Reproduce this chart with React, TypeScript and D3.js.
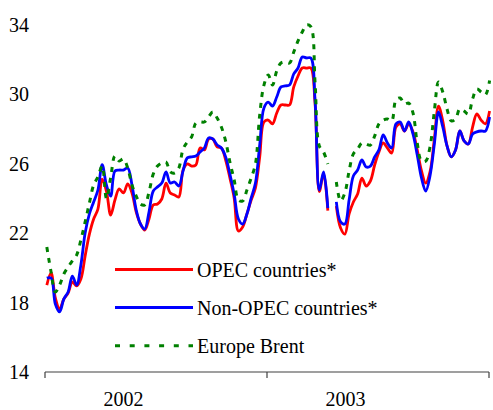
import React from "react";
import * as d3 from "d3";

// weekly prices, USD per barrel, first week ending 4 Jan 2002
const opec: (number | null)[] = [
  19.01, 19.71, 18.27, 17.63, 18.21, 18.55, 19.19, 18.96, 19.36, 20.69,
  21.95, 22.82, 23.39, 25.12, 24.43, 23.05, 23.91, 24.55, 24.32, 24.84,
  24.32, 23.22, 22.53, 22.18, 22.82, 23.63, 23.68, 23.97, 24.89, 24.32,
  24.2, 24.09, 25.64, 25.99, 25.87, 25.93, 26.91, 26.8, 27.43, 27.43,
  26.97, 26.91, 26.22, 25.18, 24.03, 22.13, 22.36, 23.11, 23.91, 24.61,
  26.39, 28.41, 28.52, 28.3, 28.93, 29.39, 29.39, 29.39, 30.43, 31.06,
  31.52, 31.52, 31.52, 29.5, 24.4, 25.45, 23.3, null, 23.57, 22.3,
  21.95, 23.11, 23.8, 24.26, 25.18, 24.72, 25.01, 25.93, 26.68, 27.2,
  26.91, 26.62, 28.12, 28.3, 27.89, 28.3, 27.84, 26.8, 25.59, 24.89,
  25.53, 27.37, 29.33, 28.47, 27.03, 26.4, 26.8, 27.89, 27.32, 27.14,
  28.12, 28.87, 28.52, 28.3, 29.04,
];

const nonOpec: (number | null)[] = [
  19.41, 19.42, 17.92, 17.46, 18.21, 18.61, 19.53, 19.01, 20.17, 22.01,
  23.11, 23.8, 24.49, 25.95, 24.78, 24.14, 25.59, 25.64, 25.64, 25.76,
  24.78, 23.34, 22.53, 22.24, 23.22, 24.43, 24.67, 24.89, 25.53, 24.89,
  24.95, 24.72, 25.59, 26.34, 26.4, 26.45, 26.68, 26.91, 27.49, 27.43,
  27.09, 26.91, 26.4, 25.41, 24.26, 22.82, 22.53, 23.11, 24.03, 24.89,
  27.09, 29.22, 29.56, 29.33, 29.85, 30.43, 30.49, 30.54, 31.18, 31.52,
  32.16, 32.1, 32.1, 29.68, 24.49, 25.53, 23.45, null, 23.8, 22.65,
  22.53, 23.91, 25.3, 25.64, 26.22, 25.82, 25.87, 26.4, 26.8, 27.66,
  27.2, 26.91, 28.3, 28.41, 27.89, 28.41, 27.72, 26.51, 25.18, 24.43,
  25.3, 27.09, 28.99, 28.12, 27.03, 26.4, 26.8, 27.89, 27.32, 27.14,
  27.72, 27.84, 27.89, 27.89, 28.7,
];

const brent: (number | null)[] = [
  21.2, 19.76, 18.61, 19.01, 19.65, 20.05, 20.4, 20.74, 21.61, 22.65,
  23.74, 24.78, 25.24, 25.87, 24.0, 25.2, 26.45, 26.16, 26.28, 25.76,
  24.78, 24.14, 23.68, 23.63, 24.37, 25.41, 25.87, 26.05, 26.1, 25.53,
  25.47, 25.76, 26.85, 27.26, 27.55, 28.35, 28.41, 28.41, 28.7, 28.99,
  28.64, 28.12, 27.31, 26.1, 25.07, 23.91, 23.86, 24.49, 25.18, 25.99,
  28.81, 30.54, 31.12, 30.54, 31.35, 31.81, 31.87, 31.81, 32.44, 33.08,
  33.6, 34.0, 33.9, 30.71, 27.03, 26.68, 25.99, null, 24.95, 23.86,
  24.32, 25.59, 26.57, 26.85, 27.2, 27.14, 27.08, 27.6, 28.3, 28.52,
  28.58, 28.47, 29.68, 29.79, 29.45, 29.5, 28.93, 27.2, 26.16, 26.16,
  26.97, 28.99, 30.71, 30.14, 29.16, 28.47, 28.58, 29.16, 29.04, 28.87,
  29.74, 30.31, 30.14, 29.97, 30.8,
];

const yTicks = [14, 18, 22, 26, 30, 34];
const years = [2002, 2003];
const seriesNames = ["OPEC countries*", "Non-OPEC countries*", "Europe Brent"];
const seriesColors = ["#ff0000", "#0000ff", "#008000"];

const font = '"Liberation Serif", "Times New Roman", serif';

const App = () => {
  const width = 493;
  const height = 410;

  const dates = opec.map((_, i) => new Date(2002, 0, 4 + 7 * i));

  const x = d3
    .scaleTime()
    .domain([new Date(2002, 0, 1), new Date(2004, 0, 1)])
    .range([45, 489]);

  const y = d3.scaleLinear().domain([14, 34]).range([372, 25]);

  const line = d3
    .line<number | null>()
    .defined((d) => d !== null)
    .x((_, i) => x(dates[i]))
    .y((d) => y(d as number))
    .curve(d3.curveCatmullRom.alpha(0.5));

  const xTicks = [2002, 2003, 2004].map((yr) => new Date(yr, 0, 1));
  const y0 = y(14);
  const legendRows = [269.5, 307.5, 345.7];
  const allSeries = [opec, nonOpec, brent];

  return (
    <svg
      width={width}
      height={height}
      style={{ position: "absolute", left: 0, top: 0, background: "#fff", fontFamily: font }}
    >
      {/* x axis */}
      <line x1={x.range()[0]} x2={x.range()[1]} y1={y0} y2={y0} stroke="#404040" strokeWidth={1.2} />
      {xTicks.map((t) => (
        <line key={+t} x1={x(t)} x2={x(t)} y1={y0} y2={y0 + 6} stroke="#404040" strokeWidth={1.2} />
      ))}
      {years.map((yr) => (
        <text
          key={yr}
          x={x(new Date(yr, 4, 10))}
          y={406}
          textAnchor="middle"
          fontSize={20}
          fill="#000"
          style={{ fontFamily: font }}
        >
          {yr}
        </text>
      ))}

      {/* y labels */}
      {yTicks.map((t) => (
        <text
          key={t}
          x={29}
          y={y(t)}
          dy="0.35em"
          textAnchor="end"
          fontSize={20}
          fill="#000"
          style={{ fontFamily: font }}
        >
          {t}
        </text>
      ))}

      {/* series */}
      {allSeries.map((s, k) => (
        <path
          key={k}
          d={line(s) || ""}
          fill="none"
          stroke={seriesColors[k]}
          strokeWidth={k === 2 ? 3 : 2.8}
          strokeDasharray={k === 2 ? "5,6" : undefined}
          strokeLinejoin="round"
        />
      ))}

      {/* legend */}
      {seriesNames.map((name, k) => (
        <g key={name}>
          <line
            x1={115}
            x2={193}
            y1={legendRows[k]}
            y2={legendRows[k]}
            stroke={seriesColors[k]}
            strokeWidth={3}
            strokeDasharray={k === 2 ? "5,9.7" : undefined}
          />
          <text
            x={197}
            y={legendRows[k]}
            dy="0.35em"
            fontSize={20}
            fill="#000"
            style={{ fontFamily: font }}
          >
            {name}
          </text>
        </g>
      ))}
    </svg>
  );
};

export default App;
